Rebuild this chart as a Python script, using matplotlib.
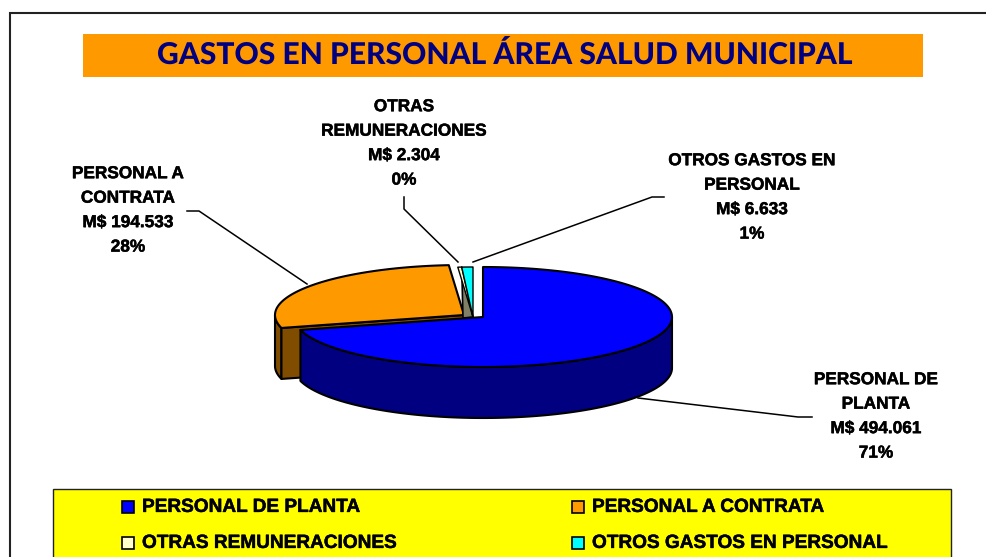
import numpy as np
import matplotlib
matplotlib.use("Agg")
import matplotlib.pyplot as plt
import matplotlib.patheffects as pe
from matplotlib.patches import Polygon, Rectangle

plt.rcParams["text.hinting"] = "none"

categories = ["PERSONAL DE PLANTA", "PERSONAL A CONTRATA", "OTRAS REMUNERACIONES", "OTROS GASTOS EN PERSONAL"]
values = [494061, 194533, 2304, 6633]
amounts = ["494.061", "194.533", "2.304", "6.633"]
percents = ["71%", "28%", "0%", "1%"]
top_colors = ["#0000FF", "#FF9900", "#FFFFCC", "#00FFFF"]
side_colors = ["#000080", "#804C00", "#808066", "#008080"]
title = "GASTOS EN PERSONAL ÁREA SALUD MUNICIPAL"

W, H = 987, 557
RX, RY, DEPTH = 189, 50, 51
centers = [(483, 317), (464, 315), (473, 317), (473, 317)]
INK = "#000000"
LW = 1.5
HEAVY = [pe.withStroke(linewidth=0.35, foreground="black")]

fig = plt.figure(figsize=(W / 100, H / 100), dpi=100, facecolor="white")
ax = fig.add_axes([0, 0, 1, 1])
ax.set_xlim(0, W)
ax.set_ylim(H, 0)
ax.axis("off")

fracs = np.array(values) / sum(values)
ends = 90 - np.cumsum(fracs) * 360
starts = np.r_[90, ends[:-1]]


def pt(c, deg):
    r = np.radians(deg)
    return np.column_stack([c[0] + RX * np.cos(r), c[1] - RY * np.sin(r)])


def arc(c, a, b, n=80):
    return pt(c, np.linspace(a, b, n))


def poly(xy, fc, z, lw=LW, ec=INK):
    ax.add_patch(Polygon(xy, closed=True, fc=fc, ec=ec, lw=lw, zorder=z, joinstyle="round"))


# frame, title band, legend box
ax.add_patch(Rectangle((9.5, 12.5), 1100, 700, fc="white", ec="#222222", lw=1.5, zorder=0))
ax.add_patch(Rectangle((83, 34), 840, 43, fc="#FF9900", ec="none", zorder=1))
ax.text(504.5, 55.5, title, ha="center", va="center", color="#000080", fontsize=21.6,
        family="Lato", fontweight=900, zorder=2)
ax.add_patch(Rectangle((53, 489), 897.5, 120, fc="#FFFF00", ec="#222222", lw=1.0, zorder=1))

# orange slice: outer wall and the cut face
c = centers[1]
a0, a1 = starts[1], ends[1] + 360
outer = arc(c, 180, a0 % 360)
poly(np.vstack([outer, (outer + [0, DEPTH])[::-1]]), side_colors[1], 3)
edge = pt(c, a0 % 360)[0]
poly([tuple(edge), c, (c[0], c[1] + DEPTH), (edge[0], edge[1] + DEPTH)], side_colors[1], 3)
poly(np.vstack([[c], arc(c, a0 % 360, a1 % 360)]), top_colors[1], 4)

# the two small slices with the grey cut wall
c2, c3 = centers[2], centers[3]
left = pt(c2, ends[2] % 360)[0]
poly([tuple(left), (c[0] - 1, c[1] + 3), c2], side_colors[2], 5, lw=1.2)
poly(np.vstack([[c2], arc(c2, starts[2], ends[2])]), top_colors[2], 6, lw=1.0)
poly(np.vstack([[c3], arc(c3, starts[3], ends[3])]), top_colors[3], 6, lw=1.0)

# blue slice
c = centers[0]
outer = arc(c, 0, ends[0], 160)
poly(np.vstack([outer, (outer + [0, DEPTH])[::-1]]), side_colors[0], 7)
poly(np.vstack([[c], arc(c, starts[0], ends[0], 200)]), top_colors[0], 8)

# data labels and leaders
labels = [
    (["PERSONAL DE", "PLANTA", f"M$ {amounts[0]}", percents[0]], 876, 416.5, [(638, 398), (798, 417), (812, 417)]),
    (["PERSONAL A", "CONTRATA", f"M$ {amounts[1]}", percents[1]], 128, 210.5, [(187, 211), (199, 211), (307, 284)]),
    (["OTRAS", "REMUNERACIONES", f"M$ {amounts[2]}", percents[2]], 404, 143.5, [(404, 197), (404, 209), (458, 262)]),
    (["OTROS GASTOS EN", "PERSONAL", f"M$ {amounts[3]}", percents[3]], 752, 197.5, [(664, 197), (652, 197), (473, 262)]),
]
for lines, x, y, lead in labels:
    ax.text(x, y, "\n".join(lines), ha="center", va="center", fontsize=12.4, family="Liberation Sans",
            fontweight="bold", linespacing=1.7, color="black", zorder=10, path_effects=HEAVY)
    xs, ys = zip(*lead)
    ax.plot(xs, ys, color=INK, lw=1.1, zorder=9)

# legend
slots = [(122, 507), (572, 507), (122, 543), (572, 543)]
for (x, y), name, col in zip(slots, categories, top_colors):
    ax.add_patch(Rectangle((x, y - 6), 12, 12, fc=col, ec=INK, lw=1.2, zorder=3))
    ax.text(x + 20, y, name, ha="left", va="center", fontsize=13.7, family="Liberation Sans",
            fontweight="bold", color="black", zorder=3, path_effects=HEAVY)

fig.savefig("out.png", dpi=100, facecolor="white")
